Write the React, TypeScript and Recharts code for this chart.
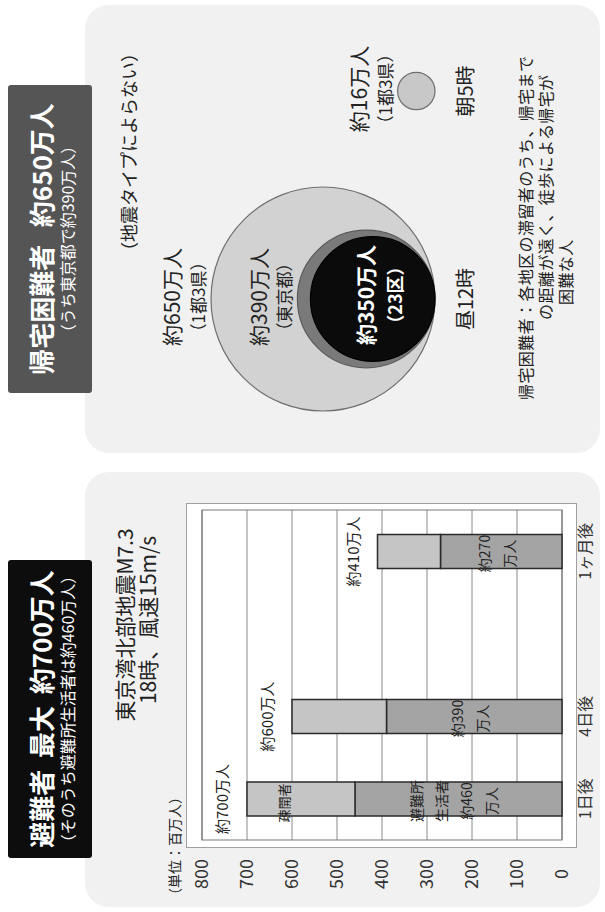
import React from "react";
import {
  Bar,
  BarChart,
  CartesianGrid,
  LabelList,
  ReferenceArea,
  Scatter,
  ScatterChart,
  XAxis,
  YAxis,
  ZAxis,
} from "recharts";

const FONT = '"Noto Sans CJK JP", "Noto Sans", sans-serif';

// 避難者（東京湾北部地震M7.3 / 18時、風速15m/s）単位：万人
const DAYS = ["1日後", "4日後", "", "1ヶ月後"];
const SHELTER = [460, 390, null, 270]; // 避難所生活者
const EVACUEES = [240, 210, null, 140]; // 疎開者
const Y_TICKS = [0, 100, 200, 300, 400, 500, 600, 700, 800];

// 帰宅困難者
const TIMES = ["昼12時", "朝5時"];
const CIRCLE_TIME = [0, 0, 0, 1];
const CIRCLE_VALUES = [650, 390, 350, 16];
const CIRCLE_AREAS = ["1都3県", "東京都", "23区", "1都3県"];

const CIRCLE_FILLS = ["#d2d2d2", "#7a7a7a", "#0b0b0b", "#c8c8c8"];
const CIRCLE_STROKES = ["#6f6f6f", "#5a5a5a", "#000", "#6f6f6f"];
const CIRCLE_LABEL_INSIDE = [false, false, true, false];

const barData = DAYS.map((day, i) => ({
  day,
  shelter: SHELTER[i],
  evacuees: EVACUEES[i],
  total: SHELTER[i] == null ? null : (SHELTER[i] ?? 0) + (EVACUEES[i] ?? 0),
}));
const circleData = CIRCLE_VALUES.map((value, i) => ({
  t: CIRCLE_TIME[i],
  y: 0,
  value,
  sq: value * value,
  area: CIRCLE_AREAS[i],
}));

const YTick = (props: any) => {
  const { x, y, payload } = props;
  return (
    <text x={Number(x) - 34} y={y} dy="0.35em" textAnchor="middle" fontSize={18} fill="#333">
      {payload.value}
    </text>
  );
};

const totalLabel = (props: any) => {
  const { x, y, width, height, index, value } = props;
  if (value == null) return null;
  const cx = Number(x) + Number(width) / 2;
  const top = Number(y);
  return (
    <g>
      <text x={cx} y={top - 19} textAnchor="middle" fontSize={15} fill="#222">
        約{value}万人
      </text>
      {index === 0 && (
        <text x={cx - 4} y={top + Number(height) * 0.35} dy="0.35em" textAnchor="middle" fontSize={13} fill="#222">
          疎開者
        </text>
      )}
    </g>
  );
};

const shelterLabel = (props: any) => {
  const { x, y, width, height, index, value } = props;
  if (value == null) return null;
  const cx = Number(x) + Number(width) / 2;
  const lines = index === 0 ? ["避難所", "生活者", `約${value}`, "万人"] : [`約${value}`, "万人"];
  const mid = Number(y) + Number(height) / 2 - 4;
  const start = mid - ((lines.length - 1) * 25) / 2;
  return (
    <g>
      {lines.map((l, i) => (
        <text key={i} x={cx - 2} y={start + i * 25} dy="0.35em" textAnchor="middle" fontSize={14} fill="#222">
          {l}
        </text>
      ))}
    </g>
  );
};

const renderCircle = (props: any, i: number) => {
  const r = props.width ? Number(props.width) / 2 : Math.sqrt(Number(props.size) / Math.PI);
  const cx = Number(props.cx);
  const cy = Number(props.cy) - r; // sits on the baseline
  const d = props.payload ?? circleData[i];
  const inside = CIRCLE_LABEL_INSIDE[i];
  const top = cy - r;
  return (
    <g>
      <circle cx={cx} cy={cy} r={r} fill={CIRCLE_FILLS[i]} stroke={CIRCLE_STROKES[i]} strokeWidth={1.2} />
      {inside ? (
        <g fill="#fff" fontWeight={700} textAnchor="middle">
          <text x={cx + 4} y={cy - 6} dy="0.35em" fontSize={21}>
            約{d.value}万人
          </text>
          <text x={cx + 4} y={cy + 23} dy="0.35em" fontSize={18}>
            （{d.area}）
          </text>
        </g>
      ) : (
        <g fill="#222" textAnchor="middle">
          <text x={cx + 2} y={top - 38} dy="0.35em" fontSize={21}>
            約{d.value}万人
          </text>
          <text x={cx + 2} y={top - 12} dy="0.35em" fontSize={17}>
            （{d.area}）
          </text>
        </g>
      )}
    </g>
  );
};

const abs = (left: number, top: number, width: number, height: number): React.CSSProperties => ({
  position: "absolute",
  left,
  top,
  width,
  height,
});

const line = (centerX: number, centerY: number, size: number, extra: React.CSSProperties = {}): React.CSSProperties => ({
  position: "absolute",
  left: centerX - 200,
  width: 400,
  top: centerY - size / 2,
  fontSize: size,
  lineHeight: 1,
  textAlign: "center",
  whiteSpace: "nowrap",
  ...extra,
});

export default function App() {
  return (
    <div style={{ position: "fixed", left: 0, top: 0, width: 605, height: 912, overflow: "hidden", background: "#fff" }}>
      <div
        style={{
          position: "absolute",
          left: 0,
          top: 0,
          width: 912,
          height: 605,
          transformOrigin: "0 0",
          transform: "translate(0px, 912px) rotate(-90deg)",
          fontFamily: FONT,
          color: "#222",
        }}
      >
        {/* panels */}
        <div style={{ ...abs(5, 85, 435, 515), background: "#f1f1f1", borderRadius: 24 }} />
        <div style={{ ...abs(459, 85, 448, 515), background: "#f1f1f1", borderRadius: 24 }} />

        {/* left: evacuees */}
        <div style={{ ...abs(54, 8, 298, 84), background: "#0d0d0d", borderRadius: 3, color: "#fff" }}>
          <div style={line(149, 33, 26, { fontWeight: 700 })}>避難者&nbsp;&nbsp;最大&nbsp;&nbsp;約700万人</div>
          <div style={line(149, 59, 16)}>（そのうち避難所生活者は約460万人）</div>
        </div>
        <div style={line(287, 124, 21)}>東京湾北部地震M7.3</div>
        <div style={line(292, 147, 21)}>18時、風速15m/s</div>
        <div style={{ ...abs(64, 186, 345, 391), background: "#fff", border: "1px solid #a0a0a0", boxSizing: "border-box" }} />
        <div style={{ position: "absolute", left: 10, top: 167, fontSize: 14, lineHeight: 1, whiteSpace: "nowrap" }}>
          （単位：百万人）
        </div>
        <div style={abs(0, 0, 440, 605)}>
          <BarChart width={440} height={605} data={barData} margin={{ top: 202, right: 38, bottom: 13, left: 0 }} barSize={34}>
            <CartesianGrid vertical={false} stroke="#8a8a8a" />
            <ReferenceArea y1={0} y2={800} fill="none" stroke="#7a7a7a" strokeWidth={1.2} ifOverflow="visible" />
            <XAxis
              dataKey="day"
              axisLine={false}
              tickLine={false}
              tickSize={0}
              tickMargin={18}
              height={30}
              interval={0}
              tick={{ fontSize: 16, fill: "#333" }}
            />
            <YAxis
              domain={[0, 800]}
              ticks={Y_TICKS}
              interval={0}
              width={72}
              axisLine={false}
              tickLine={false}
              tickSize={0}
              tickMargin={0}
              tick={YTick}
            />
            <Bar dataKey="shelter" name="避難所生活者" stackId="a" fill="#a4a4a4" stroke="#2b2b2b" strokeWidth={1.5} isAnimationActive={false}>
              <LabelList dataKey="shelter" content={shelterLabel} />
            </Bar>
            <Bar dataKey="evacuees" name="疎開者" stackId="a" fill="#c5c5c5" stroke="#2b2b2b" strokeWidth={1.5} isAnimationActive={false}>
              <LabelList dataKey="total" content={totalLabel} />
            </Bar>
          </BarChart>
        </div>

        {/* right: stranded commuters */}
        <div style={{ ...abs(519, 8, 308, 84), background: "#555", borderRadius: 3, color: "#fff" }}>
          <div style={line(154, 33, 26, { fontWeight: 700 })}>帰宅困難者&nbsp;&nbsp;&nbsp;約650万人</div>
          <div style={line(154, 59, 16)}>（うち東京都で約390万人）</div>
        </div>
        <div style={line(760, 128, 18)}>（地震タイプによらない）</div>
        <div style={abs(460, 0, 452, 605)}>
          <ScatterChart width={452} height={605} margin={{ top: 100, right: 91, bottom: 130, left: 153 }}>
            <XAxis
              type="number"
              dataKey="t"
              domain={[0, 1]}
              ticks={[0, 1]}
              tickFormatter={(v: number) => TIMES[v]}
              axisLine={false}
              tickLine={false}
              tickSize={0}
              tickMargin={24}
              height={40}
              tick={{ fontSize: 20, fill: "#222" }}
            />
            <YAxis type="number" dataKey="y" domain={[0, 1]} hide />
            <ZAxis type="number" dataKey="sq" domain={[0, 650 * 650]} range={[1075, 39408]} />
            {circleData.map((d, i) => (
              <Scatter
                key={i}
                name={`約${d.value}万人`}
                data={[d]}
                fill={CIRCLE_FILLS[i]}
                isAnimationActive={false}
                shape={(p: any) => renderCircle(p, i)}
              />
            ))}
          </ScatterChart>
        </div>
        <div style={{ position: "absolute", left: 512, top: 517, fontSize: 16, lineHeight: 1, letterSpacing: 0.4, whiteSpace: "nowrap" }}>
          帰宅困難者：各地区の滞留者のうち、帰宅まで
        </div>
        <div style={{ position: "absolute", left: 592, top: 537, fontSize: 16, lineHeight: 1, letterSpacing: 0.4, whiteSpace: "nowrap" }}>
          の距離が遠く、徒歩による帰宅が
        </div>
        <div style={{ position: "absolute", left: 607, top: 557, fontSize: 16, lineHeight: 1, letterSpacing: 0.4, whiteSpace: "nowrap" }}>
          困難な人
        </div>
      </div>
    </div>
  );
}
